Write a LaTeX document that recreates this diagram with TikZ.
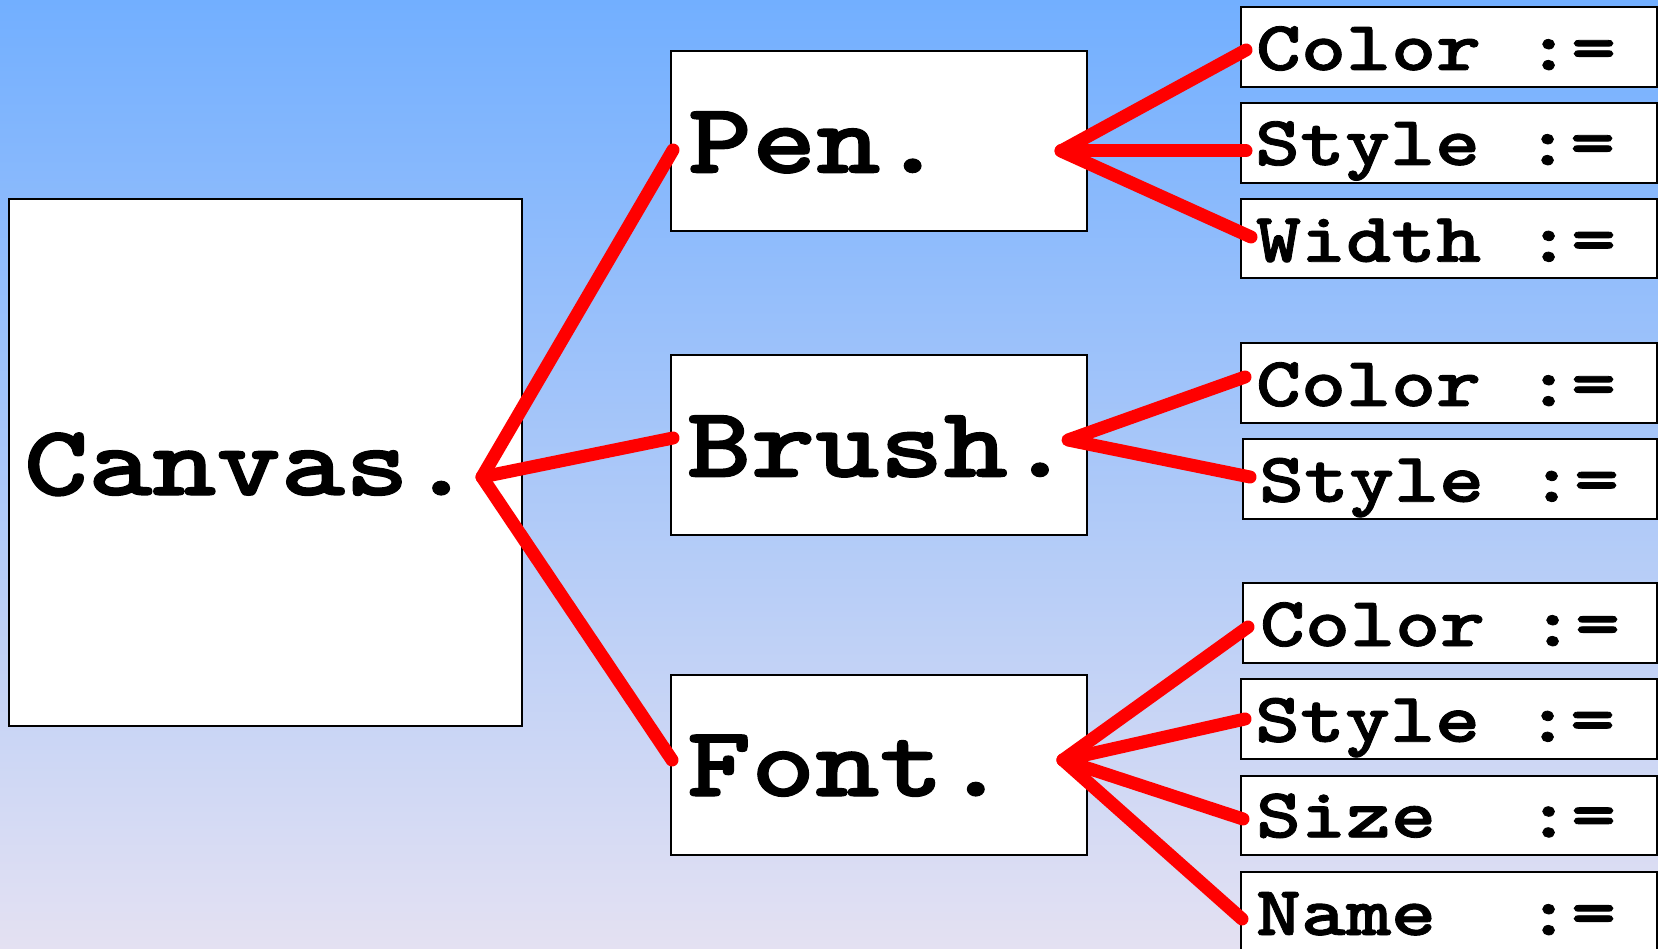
\documentclass[tikz,border=0pt]{standalone}
\usepackage{fontspec}
\newfontfamily\cour{lmmonolt10-bold.otf}[FakeStretch=1.22,FakeBold=1.2]
\definecolor{bgtop}{RGB}{114,175,255}
\definecolor{bgbot}{RGB}{228,225,242}
\definecolor{linkred}{RGB}{255,0,0}
\begin{document}
\begin{tikzpicture}[x=1pt,y=-1pt,
  box/.style={draw=black, line width=2pt, fill=white, inner sep=0pt, outer sep=0pt, anchor=north west, rectangle},
  bigtxt/.style={font=\cour\fontsize{100.2}{100}\selectfont, inner sep=0pt, outer sep=0pt, anchor=base west},
  smalltxt/.style={font=\cour\fontsize{70.3}{70}\selectfont, inner sep=0pt, outer sep=0pt, anchor=base west},
  link/.style={draw=linkred, line width=13pt, line cap=round, line join=round}]
\useasboundingbox (0,0) rectangle (1658,949);
\clip (0,0) rectangle (1658,949);
\shade[top color=bgtop, bottom color=bgbot] (0,0) rectangle (1658,949);

% main boxes
\node[box, minimum width=513.5pt, minimum height=527pt] (canvas) at (8.5,199) {};
\node[box, minimum width=416pt, minimum height=180pt] (pen) at (670.7,50.7) {};
\node[box, minimum width=416pt, minimum height=180pt] (brush) at (670.7,355) {};
\node[box, minimum width=416pt, minimum height=180pt] (font) at (670.7,675) {};

% property boxes
\node[box, minimum width=416pt, minimum height=79.7pt] (pcolor) at (1241,7) {};
\node[box, minimum width=416pt, minimum height=79.7pt] (pstyle) at (1241,103) {};
\node[box, minimum width=416pt, minimum height=79.5pt] (pwidth) at (1241,199) {};
\node[box, minimum width=416.3pt, minimum height=79.4pt] (bcolor) at (1240.7,343.3) {};
\node[box, minimum width=414.3pt, minimum height=79.7pt] (bstyle) at (1242.7,439.3) {};
\node[box, minimum width=414.3pt, minimum height=80pt] (fcolor) at (1242.7,583.3) {};
\node[box, minimum width=416.3pt, minimum height=80pt] (fstyle) at (1240.7,679.3) {};
\node[box, minimum width=416.3pt, minimum height=79.3pt] (fsize) at (1240.7,775.7) {};
\node[box, minimum width=416.3pt, minimum height=100pt] (fname) at (1240.7,871.7) {};

% texts
\node[bigtxt] (canvastxt) at (24,495) {Canvas.};
\node[bigtxt] (pentxt) at (688,172.7) {Pen.};
\node[bigtxt] (brushtxt) at (687,476.7) {Brush.};
\node[bigtxt] (fonttxt) at (687,796) {Font.};

\node[smalltxt] (pcolortxt) at (1256,70) {Color :=};
\node[smalltxt] (pstyletxt) at (1255,165) {Style :=};
\node[smalltxt] (pwidthtxt) at (1256,261.7) {Width :=};
\node[smalltxt] (bcolortxt) at (1256,406) {Color :=};
\node[smalltxt] (bstyletxt) at (1259,501.7) {Style :=};
\node[smalltxt] (fcolortxt) at (1260,646) {Color :=};
\node[smalltxt] (fstyletxt) at (1255,741.7) {Style :=};
\node[smalltxt] (fsizetxt) at (1256,837.3) {Size~~:=};
\node[smalltxt] (fnametxt) at (1256,935) {Name~~:=};

% hubs and line ends
\coordinate (canvashub) at (482,477);
\coordinate (penin) at (673,150);
\coordinate (brushin) at (673,438);
\coordinate (fontin) at (672,760);
\coordinate (penhub) at (1061,151);
\coordinate (brushhub) at (1068,440);
\coordinate (fonthub) at (1063,760);
\coordinate (pcolorin) at (1246,50);
\coordinate (pstylein) at (1246,151);
\coordinate (pwidthin) at (1251,237);
\coordinate (bcolorin) at (1245,377);
\coordinate (bstylein) at (1250,477);
\coordinate (fcolorin) at (1248,627);
\coordinate (fstylein) at (1245,719);
\coordinate (fsizein) at (1243,819);
\coordinate (fnamein) at (1242,919);

% connectors
\draw[link] (penin) -- (canvashub) -- (fontin);
\draw[link] (canvashub) -- (brushin);
\draw[link] (pcolorin) -- (penhub) -- (pwidthin);
\draw[link] (penhub) -- (pstylein);
\draw[link] (bcolorin) -- (brushhub) -- (bstylein);
\draw[link] (fcolorin) -- (fonthub) -- (fnamein);
\draw[link] (fonthub) -- (fstylein);
\draw[link] (fonthub) -- (fsizein);
\end{tikzpicture}
\end{document}
